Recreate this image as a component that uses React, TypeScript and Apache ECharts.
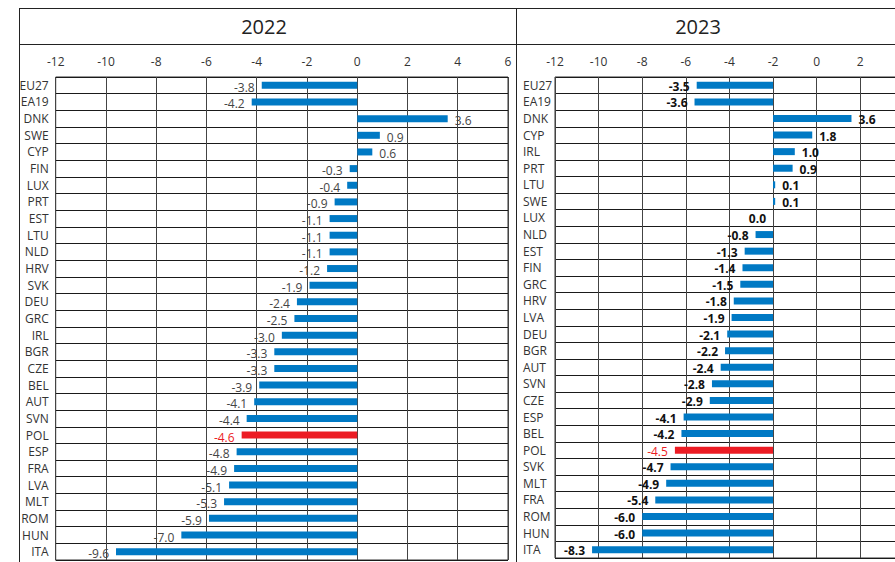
import React, { useEffect, useRef } from "react";
import * as echarts from "echarts";

const categories2022 = ["EU27","EA19","DNK","SWE","CYP","FIN","LUX","PRT","EST","LTU","NLD","HRV","SVK","DEU","GRC","IRL","BGR","CZE","BEL","AUT","SVN","POL","ESP","FRA","LVA","MLT","ROM","HUN","ITA"];
const values2022 = [-3.8,-4.2,3.6,0.9,0.6,-0.3,-0.4,-0.9,-1.1,-1.1,-1.1,-1.2,-1.9,-2.4,-2.5,-3.0,-3.3,-3.3,-3.9,-4.1,-4.4,-4.6,-4.8,-4.9,-5.1,-5.3,-5.9,-7.0,-9.6];

const categories2023 = ["EU27","EA19","DNK","CYP","IRL","PRT","LTU","SWE","LUX","NLD","EST","FIN","GRC","HRV","LVA","DEU","BGR","AUT","SVN","CZE","ESP","BEL","POL","SVK","MLT","FRA","ROM","HUN","ITA"];
const values2023 = [-3.5,-3.6,3.6,1.8,1.0,0.9,0.1,0.1,0.0,-0.8,-1.3,-1.4,-1.5,-1.8,-1.9,-2.1,-2.2,-2.4,-2.8,-2.9,-4.1,-4.2,-4.5,-4.7,-4.9,-5.4,-6.0,-6.0,-8.3];

const titles = ["2022", "2023"];
const highlight = "POL";
// the 2023 panel's tick labels are printed shifted by this amount in the original
const tickShift2023 = -2;

const BLUE = "#0079C4";
const RED = "#EC1C24";
const FONT = "'Open Sans', 'Noto Sans', sans-serif";

function makeData(cats: string[], vals: number[], labelColor: string, bold: boolean) {
  return vals.map((v, i) => {
    const hi = cats[i] === highlight;
    return {
      value: v,
      itemStyle: { color: hi ? RED : BLUE },
      label: {
        position: v > 0 ? "right" : "left",
        color: hi ? RED : labelColor,
        fontWeight: bold && !hi ? "bold" : "normal",
      },
    };
  });
}

export default function App() {
  const ref = useRef<HTMLDivElement>(null);
  useEffect(() => {
    if (!ref.current) return;
    const chart = echarts.init(ref.current, undefined, { renderer: "svg" });
    const gridTop = 77;
    const gridH = 483;
    const axisLabelStyle = { color: "#333", fontSize: 12, fontFamily: FONT };
    const option: any = {
      animation: false,
      backgroundColor: "#fff",
      grid: [
        { left: 55.7, top: gridTop, width: 452.3, height: gridH, show: true, borderColor: "#333", borderWidth: 1, containLabel: false },
        { left: 555, top: gridTop, width: 392.4, height: gridH - 2, show: true, borderColor: "#333", borderWidth: 1, containLabel: false },
      ],
      xAxis: [
        {
          gridIndex: 0, type: "value", position: "top", min: -12, max: 6, interval: 2,
          axisLine: { show: false }, axisTick: { show: false },
          axisLabel: { ...axisLabelStyle, margin: 10 },
          splitLine: { show: true, lineStyle: { color: "#444", width: 1 } },
        },
        {
          gridIndex: 1, type: "value", position: "top", min: -10, max: 8, interval: 2,
          axisLine: { show: false }, axisTick: { show: false },
          axisLabel: { ...axisLabelStyle, margin: 10, formatter: (v: number) => String(v + tickShift2023) },
          splitLine: { show: true, lineStyle: { color: "#444", width: 1 } },
        },
      ],
      yAxis: [
        {
          gridIndex: 0, type: "category", data: categories2022, inverse: true,
          axisLine: { show: false }, axisTick: { show: false },
          axisLabel: { ...axisLabelStyle, margin: 7, interval: 0 },
          splitLine: { show: true, interval: 0, lineStyle: { color: "#1a1a1a", width: 1 } },
        },
        {
          gridIndex: 1, type: "category", data: categories2023, inverse: true,
          axisLine: { show: false }, axisTick: { show: false },
          axisLabel: { ...axisLabelStyle, margin: 32, align: "left", interval: 0 },
          splitLine: { show: true, interval: 0, lineStyle: { color: "#1a1a1a", width: 1 } },
        },
      ],
      series: [
        {
          type: "bar", xAxisIndex: 0, yAxisIndex: 0, barWidth: 7,
          data: makeData(categories2022, values2022, "#444", false),
          label: { show: true, distance: 7, offset: [0, 2], fontSize: 12, fontFamily: FONT, formatter: (p: any) => p.value.toFixed(1) },
        },
        {
          type: "bar", xAxisIndex: 1, yAxisIndex: 1, barWidth: 7,
          data: makeData(categories2023, values2023, "#111", true),
          label: { show: true, distance: 7, offset: [0, 1], fontSize: 12, fontFamily: FONT, formatter: (p: any) => p.value.toFixed(1) },
        },
      ],
      graphic: [
        { type: "line", shape: { x1: 19.5, y1: 8.5, x2: 960, y2: 8.5 }, style: { stroke: "#222", lineWidth: 1 } },
        { type: "line", shape: { x1: 19.5, y1: 44.5, x2: 960, y2: 44.5 }, style: { stroke: "#222", lineWidth: 1 } },
        { type: "line", shape: { x1: 19.5, y1: 8, x2: 19.5, y2: 562 }, style: { stroke: "#222", lineWidth: 1 } },
        { type: "line", shape: { x1: 516.5, y1: 8, x2: 516.5, y2: 562 }, style: { stroke: "#222", lineWidth: 1 } },
        { type: "text", x: 264, y: 26, style: { text: titles[0], fontSize: 20, fontFamily: FONT, fill: "#222", align: "center", verticalAlign: "middle" } },
        { type: "text", x: 698, y: 26, style: { text: titles[1], fontSize: 20, fontFamily: FONT, fill: "#222", align: "center", verticalAlign: "middle" } },
      ],
    };
    chart.setOption(option);
    return () => chart.dispose();
  }, []);
  return (
    <div style={{ position: "fixed", left: 0, top: 0, width: 895, height: 562, overflow: "hidden" }}>
      <div ref={ref} style={{ position: "absolute", left: 0, top: 0, width: 960, height: 562 }} />
    </div>
  );
}
